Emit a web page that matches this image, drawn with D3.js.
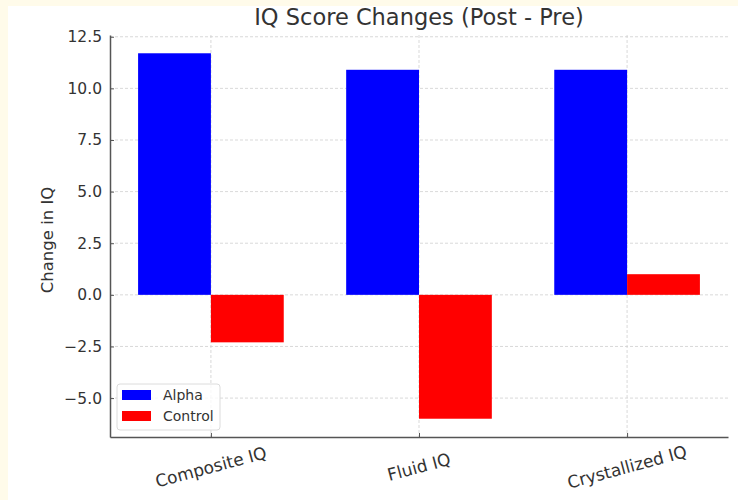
<!DOCTYPE html>
<html>
<head>
    <meta charset="utf-8">
    <title>IQ Score Changes</title>
    <script src="https://cdn.jsdelivr.net/npm/d3@7/dist/d3.min.js"></script>
    <style>
        body { margin: 0; background: #fffbea; }
        svg { display: block; font-family: "DejaVu Sans", sans-serif; }
    </style>
</head>
<body>
    <svg width="738" height="500"></svg>
    <script>
        // data
        const categories = ['Composite IQ', 'Fluid IQ', 'Crystallized IQ'];
        const seriesNames = ['Alpha', 'Control'];
        const seriesColors = ['#0000ff', '#ff0000'];
        const alphaValues = [11.7, 10.9, 10.9];
        const controlValues = [-2.3, -6.0, 1.0];
        const yTicks = [-5.0, -2.5, 0.0, 2.5, 5.0, 7.5, 10.0, 12.5];

        const series = seriesNames.map((name, i) => ({
            name,
            color: seriesColors[i],
            values: i === 0 ? alphaValues : controlValues
        }));

        const svg = d3.select('svg');
        const margin = { left: 110, right: 10, top: 35, bottom: 63 };
        const width = 738 - margin.left - margin.right;
        const height = 500 - margin.top - margin.bottom;
        const barWidth = 0.35;

        // white canvas, cream strip on top/left like the screenshot
        svg.append('rect').attr('x', 8).attr('y', 6)
            .attr('width', 730).attr('height', 494).attr('fill', 'white');

        const allVals = alphaValues.concat(controlValues);
        const yMin = d3.min(allVals), yMax = d3.max(allVals);
        const pad = (yMax - yMin) * 0.05;
        const y = d3.scaleLinear().domain([yMin - pad, yMax + pad]).range([height, 0]);
        const xPad = (categories.length - 1 + 2 * barWidth) * 0.05;
        const x = d3.scaleLinear()
            .domain([-barWidth - xPad, categories.length - 1 + barWidth + xPad])
            .range([0, width]);

        const g = svg.append('g').attr('transform', `translate(${margin.left},${margin.top})`);

        // grid
        g.append('g').selectAll('line').data(yTicks).join('line')
            .attr('x1', 0).attr('x2', width)
            .attr('y1', d => y(d)).attr('y2', d => y(d))
            .attr('stroke', '#cfcfcf').attr('stroke-width', 0.8)
            .attr('stroke-dasharray', '3,2');
        g.append('g').selectAll('line').data(categories).join('line')
            .attr('x1', (d, i) => x(i)).attr('x2', (d, i) => x(i))
            .attr('y1', 0).attr('y2', height)
            .attr('stroke', '#cfcfcf').attr('stroke-width', 0.8)
            .attr('stroke-dasharray', '3,2');

        // bars
        series.forEach((s, si) => {
            g.append('g').selectAll('rect').data(s.values).join('rect')
                .attr('x', (d, i) => x(i + (si === 0 ? -barWidth : 0)))
                .attr('width', x(barWidth) - x(0))
                .attr('y', d => y(Math.max(0, d)))
                .attr('height', d => Math.abs(y(d) - y(0)))
                .attr('fill', s.color);
        });

        // axes
        const yAxis = g.append('g')
            .call(d3.axisLeft(y).tickValues(yTicks).tickFormat(d3.format('.1f')).tickSizeInner(-4).tickSizeOuter(0).tickPadding(8));
        const xAxis = g.append('g').attr('transform', `translate(0,${height})`)
            .call(d3.axisBottom(x).tickValues(d3.range(categories.length)).tickFormat('').tickSizeInner(-4).tickSizeOuter(0));
        [yAxis, xAxis].forEach(a => {
            a.select('.domain').attr('stroke', '#555').attr('stroke-width', 1.5);
            a.selectAll('.tick line').attr('stroke', '#555');
        });
        yAxis.selectAll('.tick text').attr('font-size', 15.5).attr('fill', '#333')
            .attr('font-family', '"DejaVu Sans", sans-serif');

        g.append('g').selectAll('text').data(categories).join('text')
            .attr('transform', (d, i) => `translate(${x(i)},${height + 30}) rotate(-15)`)
            .attr('text-anchor', 'middle').attr('dy', '0.35em')
            .attr('font-size', 17).attr('fill', '#333')
            .text(d => d);

        // labels
        g.append('text')
            .attr('transform', `translate(-57,${height / 2 + 4}) rotate(-90)`)
            .attr('text-anchor', 'middle').attr('font-size', 16.5).attr('fill', '#333')
            .text('Change in IQ');
        g.append('text')
            .attr('x', width / 2).attr('y', -10)
            .attr('text-anchor', 'middle').attr('font-size', 22.5).attr('fill', '#333')
            .text('IQ Score Changes (Post - Pre)');

        // legend
        const legend = g.append('g').attr('transform', `translate(7,${height - 53})`);
        legend.append('rect').attr('width', 103).attr('height', 46).attr('rx', 3)
            .attr('fill', 'white').attr('fill-opacity', 0.8).attr('stroke', '#dcdcdc');
        const items = legend.selectAll('.item').data(series).join('g')
            .attr('class', 'item')
            .attr('transform', (d, i) => `translate(5,${11 + i * 21})`);
        items.append('rect').attr('width', 29).attr('height', 10).attr('y', -5).attr('fill', d => d.color);
        items.append('text').attr('x', 41).attr('dy', '0.35em')
            .attr('font-size', 14).attr('fill', '#333').text(d => d.name);
    </script>
</body>
</html>
